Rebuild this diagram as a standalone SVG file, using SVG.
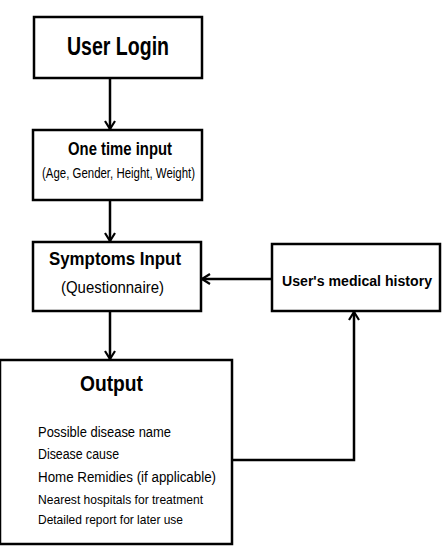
<svg xmlns="http://www.w3.org/2000/svg" width="446" height="548" viewBox="0 0 446 548">
<style>
.box{fill:#fff;stroke:#000;stroke-width:2.5}
.t{font-family:"Liberation Sans",Arial,sans-serif;fill:#000}
.b{font-weight:bold}
.c{stroke:#000;stroke-width:2.5;fill:none}
</style>
<defs>
<marker id="ah" viewBox="0 0 12 12" refX="11" refY="6" markerWidth="12" markerHeight="12" markerUnits="userSpaceOnUse" orient="auto">
<path d="M3,1 L11,6 L3,11" fill="none" stroke="#000" stroke-width="2.2"/>
</marker>
</defs>
<g id="connectors">
<line class="c" x1="110" y1="78" x2="110" y2="129" marker-end="url(#ah)"/>
<line class="c" x1="110" y1="200" x2="110" y2="241" marker-end="url(#ah)"/>
<line class="c" x1="272" y1="279" x2="202" y2="279" marker-end="url(#ah)"/>
<line class="c" x1="110" y1="311" x2="110" y2="359" marker-end="url(#ah)"/>
<polyline class="c" points="232,460 354,460 354,312" marker-end="url(#ah)"/>
</g>
<g id="user-login">
<rect class="box" x="34" y="17" width="168" height="61"/>
<text class="t b" x="118" y="55" font-size="25" text-anchor="middle" textLength="102" lengthAdjust="spacingAndGlyphs">User Login</text>
</g>
<g id="one-time-input">
<rect class="box" x="33" y="130" width="169" height="70"/>
<text class="t b" x="120" y="155" font-size="18" text-anchor="middle" textLength="104" lengthAdjust="spacingAndGlyphs">One time input</text>
<text class="t" x="118.5" y="178" font-size="14" text-anchor="middle" textLength="153" lengthAdjust="spacingAndGlyphs">(Age, Gender, Height, Weight)</text>
</g>
<g id="symptoms-input">
<rect class="box" x="33" y="242" width="168" height="69"/>
<text class="t b" x="115" y="265" font-size="19" text-anchor="middle" textLength="132" lengthAdjust="spacingAndGlyphs">Symptoms Input</text>
<text class="t" x="112.5" y="293" font-size="16" text-anchor="middle" textLength="103" lengthAdjust="spacingAndGlyphs">(Questionnaire)</text>
</g>
<g id="medical-history">
<rect class="box" x="272" y="244" width="168" height="67"/>
<text class="t b" x="357" y="286" font-size="14.5" text-anchor="middle" textLength="150" lengthAdjust="spacingAndGlyphs">User's medical history</text>
</g>
<g id="output">
<rect class="box" x="0" y="360" width="232" height="184"/>
<text class="t b" x="111.5" y="391" font-size="22" text-anchor="middle" textLength="63" lengthAdjust="spacingAndGlyphs">Output</text>
<text class="t" x="38" y="437" font-size="15.5" textLength="133" lengthAdjust="spacingAndGlyphs">Possible disease name</text>
<text class="t" x="38" y="459" font-size="15.5" textLength="81" lengthAdjust="spacingAndGlyphs">Disease cause</text>
<text class="t" x="38" y="482" font-size="15.5" textLength="178" lengthAdjust="spacingAndGlyphs">Home Remidies (if applicable)</text>
<text class="t" x="38" y="504" font-size="13.5" textLength="165" lengthAdjust="spacingAndGlyphs">Nearest hospitals for treatment</text>
<text class="t" x="38" y="524" font-size="13.5" textLength="145" lengthAdjust="spacingAndGlyphs">Detailed report for later use</text>
</g>
</svg>
